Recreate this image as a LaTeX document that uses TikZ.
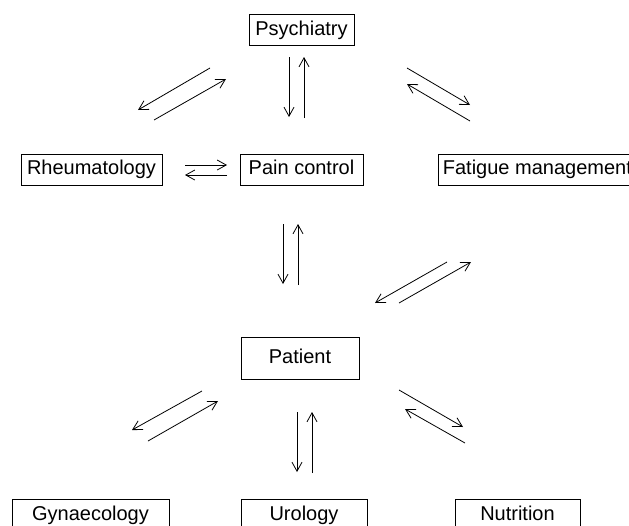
\documentclass[tikz,border=0pt]{standalone}
\usepackage{fontspec}
\setmainfont{Liberation Sans}
\usetikzlibrary{arrows.meta}
\begin{document}
\begin{tikzpicture}[x=1pt,y=-1pt,
  box/.style={draw,line width=0.8pt,minimum height=31pt,inner sep=0pt,text height=14pt,text depth=4pt,font=\fontsize{20}{24}\selectfont},
  arr/.style={line width=0.8pt,-{Straight Barb[length=9pt,width=10pt]}}]
\useasboundingbox (0,0) rectangle (629,525);
\begin{scope}
\clip (0,0) rectangle (629,525);
% boxes
\node[box,minimum width=105pt] (psy) at (301.5,30) {Psychiatry};
\node[box,minimum width=141pt] (rheu) at (91.5,169.5) {Rheumatology};
\node[box,minimum width=123pt] (pain) at (301.5,169.5) {Pain control};
\node[box,minimum width=198pt,anchor=west] (fat) at (438,169.5) {Fatigue management};
\node[box,minimum width=118pt,minimum height=42pt] (pat) at (300,358) {Patient};
\node[box,minimum width=157pt] (gyn) at (90.5,515) {Gynaecology};
\node[box,minimum width=126pt] (uro) at (304,515) {Urology};
\node[box,minimum width=125pt] (nut) at (517.5,515) {Nutrition};
% arrow end points
\coordinate (a1s) at (210,68);  \coordinate (a1e) at (138,110);
\coordinate (a2s) at (154,120); \coordinate (a2e) at (226,79);
\coordinate (v1s) at (289,57);  \coordinate (v1e) at (289,117);
\coordinate (v2s) at (304,118); \coordinate (v2e) at (304,57);
\coordinate (b1s) at (407,68);  \coordinate (b1e) at (470,105);
\coordinate (b2s) at (470,121); \coordinate (b2e) at (407,84);
\coordinate (h1s) at (185,165); \coordinate (h1e) at (227,165);
\coordinate (h2s) at (227,175); \coordinate (h2e) at (185,175);
\coordinate (m1s) at (283,224); \coordinate (m1e) at (283,284);
\coordinate (m2s) at (298,285); \coordinate (m2e) at (298,224);
\coordinate (c1s) at (447,262); \coordinate (c1e) at (375,303);
\coordinate (c2s) at (399,303); \coordinate (c2e) at (471,262);
\coordinate (d1s) at (202,391); \coordinate (d1e) at (132,430);
\coordinate (d2s) at (148,441); \coordinate (d2e) at (218,401);
\coordinate (w1s) at (297,412); \coordinate (w1e) at (297,472);
\coordinate (w2s) at (312,473); \coordinate (w2e) at (312,412);
\coordinate (e1s) at (399,390); \coordinate (e1e) at (463,427);
\coordinate (e2s) at (465,443); \coordinate (e2e) at (405,409);
\foreach \p in {a1,a2,v1,v2,b1,b2,h1,h2,m1,m2,c1,c2,d1,d2,w1,w2,e1,e2}
  \draw[arr] (\p s) -- (\p e);
\end{scope}
\end{tikzpicture}
\end{document}
